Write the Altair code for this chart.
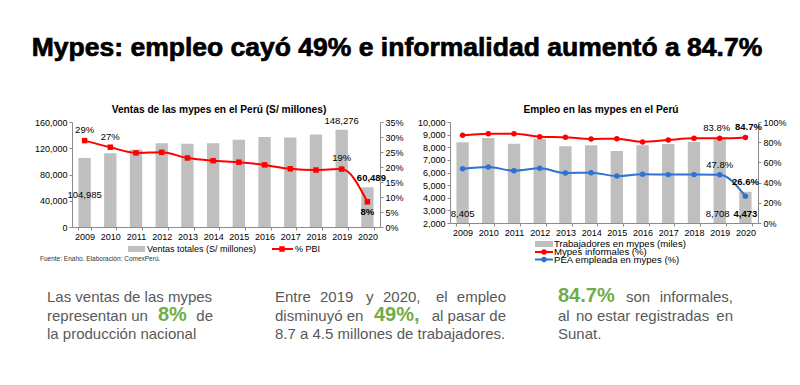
import altair as alt
import pandas as pd

# ---------------- data ----------------
years = ["2009", "2010", "2011", "2012", "2013", "2014", "2015", "2016", "2017", "2018", "2019", "2020"]
ventas = [104985, 112500, 117600, 127800, 126800, 127800, 132900, 137000, 136400, 141000, 148276, 60489]
pbi = [28.8, 26.6, 24.7, 24.9, 23.0, 22.1, 21.6, 20.7, 19.4, 19.0, 19.3, 8.4]
trabajadores = [8405, 8733, 8284, 8680, 8073, 8152, 7703, 8152, 8257, 8416, 8708, 4473]
informales = [86.8, 88.4, 88.4, 85.5, 84.8, 83.2, 83.5, 80.2, 82.2, 83.8, 83.8, 84.7]
pea = [53.8, 55.4, 51.8, 54.1, 49.5, 49.8, 46.5, 48.2, 47.9, 47.9, 47.8, 26.6]

ventas_ticks = [0, 40000, 80000, 120000, 160000]
pbi_ticks = [0, 5, 10, 15, 20, 25, 30, 35]
trab_ticks = [2000, 3000, 4000, 5000, 6000, 7000, 8000, 9000, 10000]
pct_ticks = [0, 20, 40, 60, 80, 100]
series = ["Mypes informales (%)", "PEA empleada en mypes (%)"]

# ---------------- style ----------------
FONT = "Liberation Sans"
GRAY_BAR = "#BFBFBF"
RED = "#FF0000"
BLUE = "#2E72D2"
GREEN = "#70AD47"
TXT = "#595959"
AX = "#8C8C8C"
W = 308
H_L = 105
H_R = 101

one = pd.DataFrame({"k": [0]})


def axis(**kw):
    base = dict(title=None, grid=False, labelFont=FONT, labelFontSize=9, labelColor="#000",
                domainColor=AX, tickColor=AX, tickSize=3, labelPadding=2)
    base.update(kw)
    return alt.Axis(**base)


def x_enc():
    return alt.X("year:O", sort=years,
                 scale=alt.Scale(paddingInner=0.52, paddingOuter=0.25),
                 axis=axis(labelAngle=0, tickBand="extent"))


def note(text, x, y, size=9, bold=False, color="#000", align="left", stroke=None):
    kw = {}
    if stroke:
        kw = dict(stroke=color, strokeWidth=stroke)
    return alt.Chart(one).mark_text(
        text=text, font=FONT, fontSize=size, fontWeight="bold" if bold else "normal",
        color=color, align=align, baseline="middle", **kw
    ).encode(x=alt.value(x), y=alt.value(y))


def box(x1, x2, y1, y2, color):
    return alt.Chart(one).mark_rect(color=color).encode(
        x=alt.value(x1), x2=alt.value(x2), y=alt.value(y1), y2=alt.value(y2))


def seg(x1, x2, y, color):
    return alt.Chart(one).mark_rule(color=color, strokeWidth=2).encode(
        x=alt.value(x1), x2=alt.value(x2), y=alt.value(y))


def dot(x, y, color, shape):
    return alt.Chart(one).mark_point(color=color, filled=True, opacity=1, size=30, shape=shape).encode(
        x=alt.value(x), y=alt.value(y))


def dlabel(base, yenc, year, text, dx=0, dy=0, bold=False, flt=None):
    cond = alt.datum.year == year
    if flt is not None:
        cond = cond & flt
    return base.transform_filter(cond).mark_text(
        text=text, font=FONT, fontSize=9.5, fontWeight="bold" if bold else "normal",
        color="#000", dx=dx, dy=dy
    ).encode(x=x_enc(), y=yenc)


# ---------------- left chart ----------------
df_v = pd.DataFrame({"year": years, "ventas": ventas, "pbi": pbi})
bv = alt.Chart(df_v)
yv_scale = alt.Scale(domain=[0, 160000], nice=False)
yp_scale = alt.Scale(domain=[0, 35], nice=False)

bars_v = bv.mark_bar(color=GRAY_BAR).encode(
    x=x_enc(),
    y=alt.Y("ventas:Q", scale=yv_scale, axis=axis(orient="left", values=ventas_ticks, format=",.0f")))
yv_lab = alt.Y("ventas:Q", scale=yv_scale, axis=None)

line_v = bv.mark_line(color=RED, strokeWidth=2, interpolate="monotone").encode(
    x=x_enc(),
    y=alt.Y("pbi:Q", scale=yp_scale,
            axis=axis(orient="right", values=pbi_ticks, labelExpr="datum.value + '%'")))
yp_lab = alt.Y("pbi:Q", scale=yp_scale, axis=None)
pts_v = bv.mark_square(color=RED, size=30, opacity=1).encode(x=x_enc(), y=yp_lab)

frame = alt.Chart(one).mark_rect(fill="white", opacity=0).encode(
    x=alt.value(-64), x2=alt.value(720), y=alt.value(-114), y2=alt.value(255))

L1, L2, L3 = 175, 193.5, 212
decor_left = [
    note("Mypes: empleo cayó 49% e informalidad aumentó a 84.7%", 325, -74, size=26.5, bold=True,
         align="center", stroke=0.7),
    note("Ventas de las mypes en el Perú (S/ millones)", 147, -12, size=10.2, bold=True, align="center"),
    box(56, 73, 124, 130, GRAY_BAR),
    note("Ventas totales (S/ millones)", 75, 127),
    seg(200, 221, 127, RED),
    dot(210, 127, RED, "square"),
    note("% PBI", 223, 127),
    note("Fuente: Enaho. Elaboración: ComexPerú.", -32, 137, size=6.5, color="#333"),
    # column 1
    note("Las ventas de las mypes", -25, L1, size=15, color=TXT),
    note("representan un", -25, L2, size=15, color=TXT),
    note("8%", 86, L2 - 1, size=20, bold=True, color=GREEN),
    note("de", 141, L2, size=15, color=TXT, align="right"),
    note("la producción nacional", -25, L3, size=15, color=TXT),
    # column 2
    note("Entre", 203, L1, size=15, color=TXT),
    note("2019", 248, L1, size=15, color=TXT),
    note("y", 294, L1, size=15, color=TXT),
    note("2020,", 311, L1, size=15, color=TXT),
    note("el", 364, L1, size=15, color=TXT),
    note("empleo", 434, L1, size=15, color=TXT, align="right"),
    note("disminuyó en", 203, L2, size=15, color=TXT),
    note("49%,", 302, L2 - 1, size=20, bold=True, color=GREEN),
    note("al pasar de", 434, L2, size=15, color=TXT, align="right"),
    note("8.7 a 4.5 millones de trabajadores.", 203, L3, size=15, color=TXT),
    # column 3
    note("84.7%", 486, L1 - 1, size=20, bold=True, color=GREEN),
    note("son", 554, L1, size=15, color=TXT),
    note("informales,", 661, L1, size=15, color=TXT, align="right"),
    note("al", 486, L2, size=15, color=TXT),
    note("no", 504, L2, size=15, color=TXT),
    note("estar", 525, L2, size=15, color=TXT),
    note("registradas", 563, L2, size=15, color=TXT),
    note("en", 661, L2, size=15, color=TXT, align="right"),
    note("Sunat.", 486, L3, size=15, color=TXT),
]

left = alt.layer(
    frame,
    bars_v,
    dlabel(bv, yv_lab, "2009", "104,985", dy=37),
    dlabel(bv, yv_lab, "2019", "148,276", dy=-9),
    dlabel(bv, yv_lab, "2020", "60,489", dx=4, dy=-9, bold=True),
    line_v, pts_v,
    dlabel(bv, yp_lab, "2009", "29%", dy=-11),
    dlabel(bv, yp_lab, "2010", "27%", dy=-10),
    dlabel(bv, yp_lab, "2019", "19%", dy=-11),
    dlabel(bv, yp_lab, "2020", "8%", dy=10, bold=True),
    *decor_left
).resolve_scale(y="independent").properties(width=W, height=H_L)

# ---------------- right chart ----------------
df_t = pd.DataFrame({"year": years, "trab": trabajadores})
df_p = pd.DataFrame({"year": years + years,
                     "serie": [series[0]] * len(years) + [series[1]] * len(years),
                     "pct": informales + pea})
bt = alt.Chart(df_t)
bp = alt.Chart(df_p)
yt_scale = alt.Scale(domain=[2000, 10000], nice=False, zero=False)
ypc_scale = alt.Scale(domain=[0, 100], nice=False)

bars_t = bt.mark_bar(color=GRAY_BAR).encode(
    x=x_enc(),
    y=alt.Y("trab:Q", scale=yt_scale, axis=axis(orient="left", values=trab_ticks, format=",.0f")),
    y2=alt.Y2Datum(2000))
yt_base = alt.YDatum(2000, scale=yt_scale, axis=None)

col = alt.Color("serie:N", scale=alt.Scale(domain=series, range=[RED, BLUE]), legend=None)
line_r = bp.mark_line(strokeWidth=2, interpolate="monotone").encode(
    x=x_enc(),
    y=alt.Y("pct:Q", scale=ypc_scale,
            axis=axis(orient="right", values=pct_ticks, labelExpr="datum.value + '%'")),
    color=col)
ypc_lab = alt.Y("pct:Q", scale=ypc_scale, axis=None)
pts_r = bp.mark_circle(size=30, opacity=1).encode(x=x_enc(), y=ypc_lab, color=col)
is_inf = alt.datum.serie == series[0]
is_pea = alt.datum.serie == series[1]

decor_right = [
    note("Empleo en las mypes en el Perú", 151, -12, size=10.2, bold=True, align="center"),
    box(85, 103, 119, 125, GRAY_BAR),
    note("Trabajadores en mypes (miles)", 104, 122, size=9.6),
    seg(85, 103, 130, RED),
    dot(94, 130, RED, "circle"),
    note("Mypes informales (%)", 104, 130, size=9.6),
    seg(85, 103, 137.5, BLUE),
    dot(94, 137.5, BLUE, "circle"),
    note("PEA empleada en mypes (%)", 104, 137.5, size=9.6),
]

right = alt.layer(
    bars_t,
    dlabel(bt, yt_base, "2009", "8,405", dy=-9),
    dlabel(bt, yt_base, "2019", "8,708", dx=-2, dy=-9),
    dlabel(bt, yt_base, "2020", "4,473", dy=-9, bold=True),
    line_r, pts_r,
    dlabel(bp, ypc_lab, "2019", "83.8%", dx=-3, dy=-10, flt=is_inf),
    dlabel(bp, ypc_lab, "2020", "84.7%", dx=3, dy=-10, bold=True, flt=is_inf),
    dlabel(bp, ypc_lab, "2019", "47.8%", dy=-10, flt=is_pea),
    dlabel(bp, ypc_lab, "2020", "26.6%", dy=-14, bold=True, flt=is_pea),
    *decor_right
).resolve_scale(y="independent").properties(width=W, height=H_R)

chart = alt.hconcat(left, right, spacing=70, bounds="flush").properties(
    padding=0
).configure_view(stroke=None).configure_axis(grid=False)

chart.save("out.html", embed_options={"renderer": "svg", "actions": False})
